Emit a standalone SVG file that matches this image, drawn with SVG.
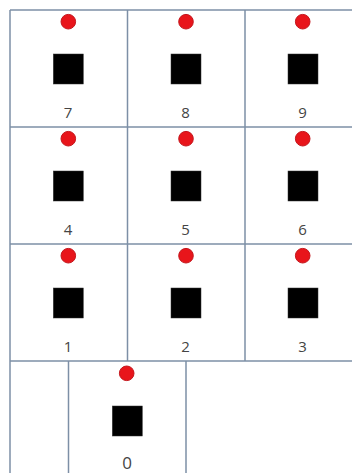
<svg xmlns="http://www.w3.org/2000/svg" width="352" height="473" viewBox="0 0 352 473">
<style>
.grid line{stroke:#7d8fa6;stroke-width:1.5}
.dot{fill:#e8151b;stroke:#c4161c;stroke-width:1}
.key{fill:#000;stroke:#333;stroke-width:0.5}
.lbl{font-family:"Open Sans","Noto Sans",sans-serif;font-size:15px;fill:#444;text-anchor:middle}
</style>
<rect width="352" height="473" fill="#fff"/>
<g id="grid" class="grid">
<line x1="10" y1="10" x2="352" y2="10"/>
<line x1="10" y1="127" x2="352" y2="127"/>
<line x1="10" y1="244" x2="352" y2="244"/>
<line x1="10" y1="361" x2="352" y2="361"/>
<line x1="10" y1="10" x2="10" y2="473"/>
<line x1="127.5" y1="10" x2="127.5" y2="361"/>
<line x1="245" y1="10" x2="245" y2="361"/>
<line x1="68.5" y1="361" x2="68.5" y2="473"/>
<line x1="186" y1="361" x2="186" y2="473"/>
</g>
<g id="key7"><circle class="dot" cx="68.3" cy="21.7" r="7.3"/><rect class="key" x="53.3" y="54" width="30" height="30"/><text class="lbl" x="68" y="118">7</text></g>
<g id="key8"><circle class="dot" cx="186" cy="21.7" r="7.3"/><rect class="key" x="171" y="54" width="30" height="30"/><text class="lbl" x="185.5" y="118">8</text></g>
<g id="key9"><circle class="dot" cx="302.7" cy="21.7" r="7.3"/><rect class="key" x="288" y="54" width="30" height="30"/><text class="lbl" x="302.5" y="118">9</text></g>
<g id="key4"><circle class="dot" cx="68.3" cy="138.7" r="7.3"/><rect class="key" x="53.3" y="171" width="30" height="30"/><text class="lbl" x="68" y="235">4</text></g>
<g id="key5"><circle class="dot" cx="186" cy="138.7" r="7.3"/><rect class="key" x="171" y="171" width="30" height="30"/><text class="lbl" x="185.5" y="235">5</text></g>
<g id="key6"><circle class="dot" cx="302.7" cy="138.7" r="7.3"/><rect class="key" x="288" y="171" width="30" height="30"/><text class="lbl" x="302.5" y="235">6</text></g>
<g id="key1"><circle class="dot" cx="68.3" cy="255.7" r="7.3"/><rect class="key" x="53.3" y="288" width="30" height="30"/><text class="lbl" x="68" y="352">1</text></g>
<g id="key2"><circle class="dot" cx="186" cy="255.7" r="7.3"/><rect class="key" x="171" y="288" width="30" height="30"/><text class="lbl" x="185.5" y="352">2</text></g>
<g id="key3"><circle class="dot" cx="302.7" cy="255.7" r="7.3"/><rect class="key" x="288" y="288" width="30" height="30"/><text class="lbl" x="302.5" y="352">3</text></g>
<g id="key0"><circle class="dot" cx="126.7" cy="373.3" r="7.3"/><rect class="key" x="112.3" y="406" width="30" height="30"/><text class="lbl" x="127" y="469" style="font-size:17px">0</text></g>
</svg>
